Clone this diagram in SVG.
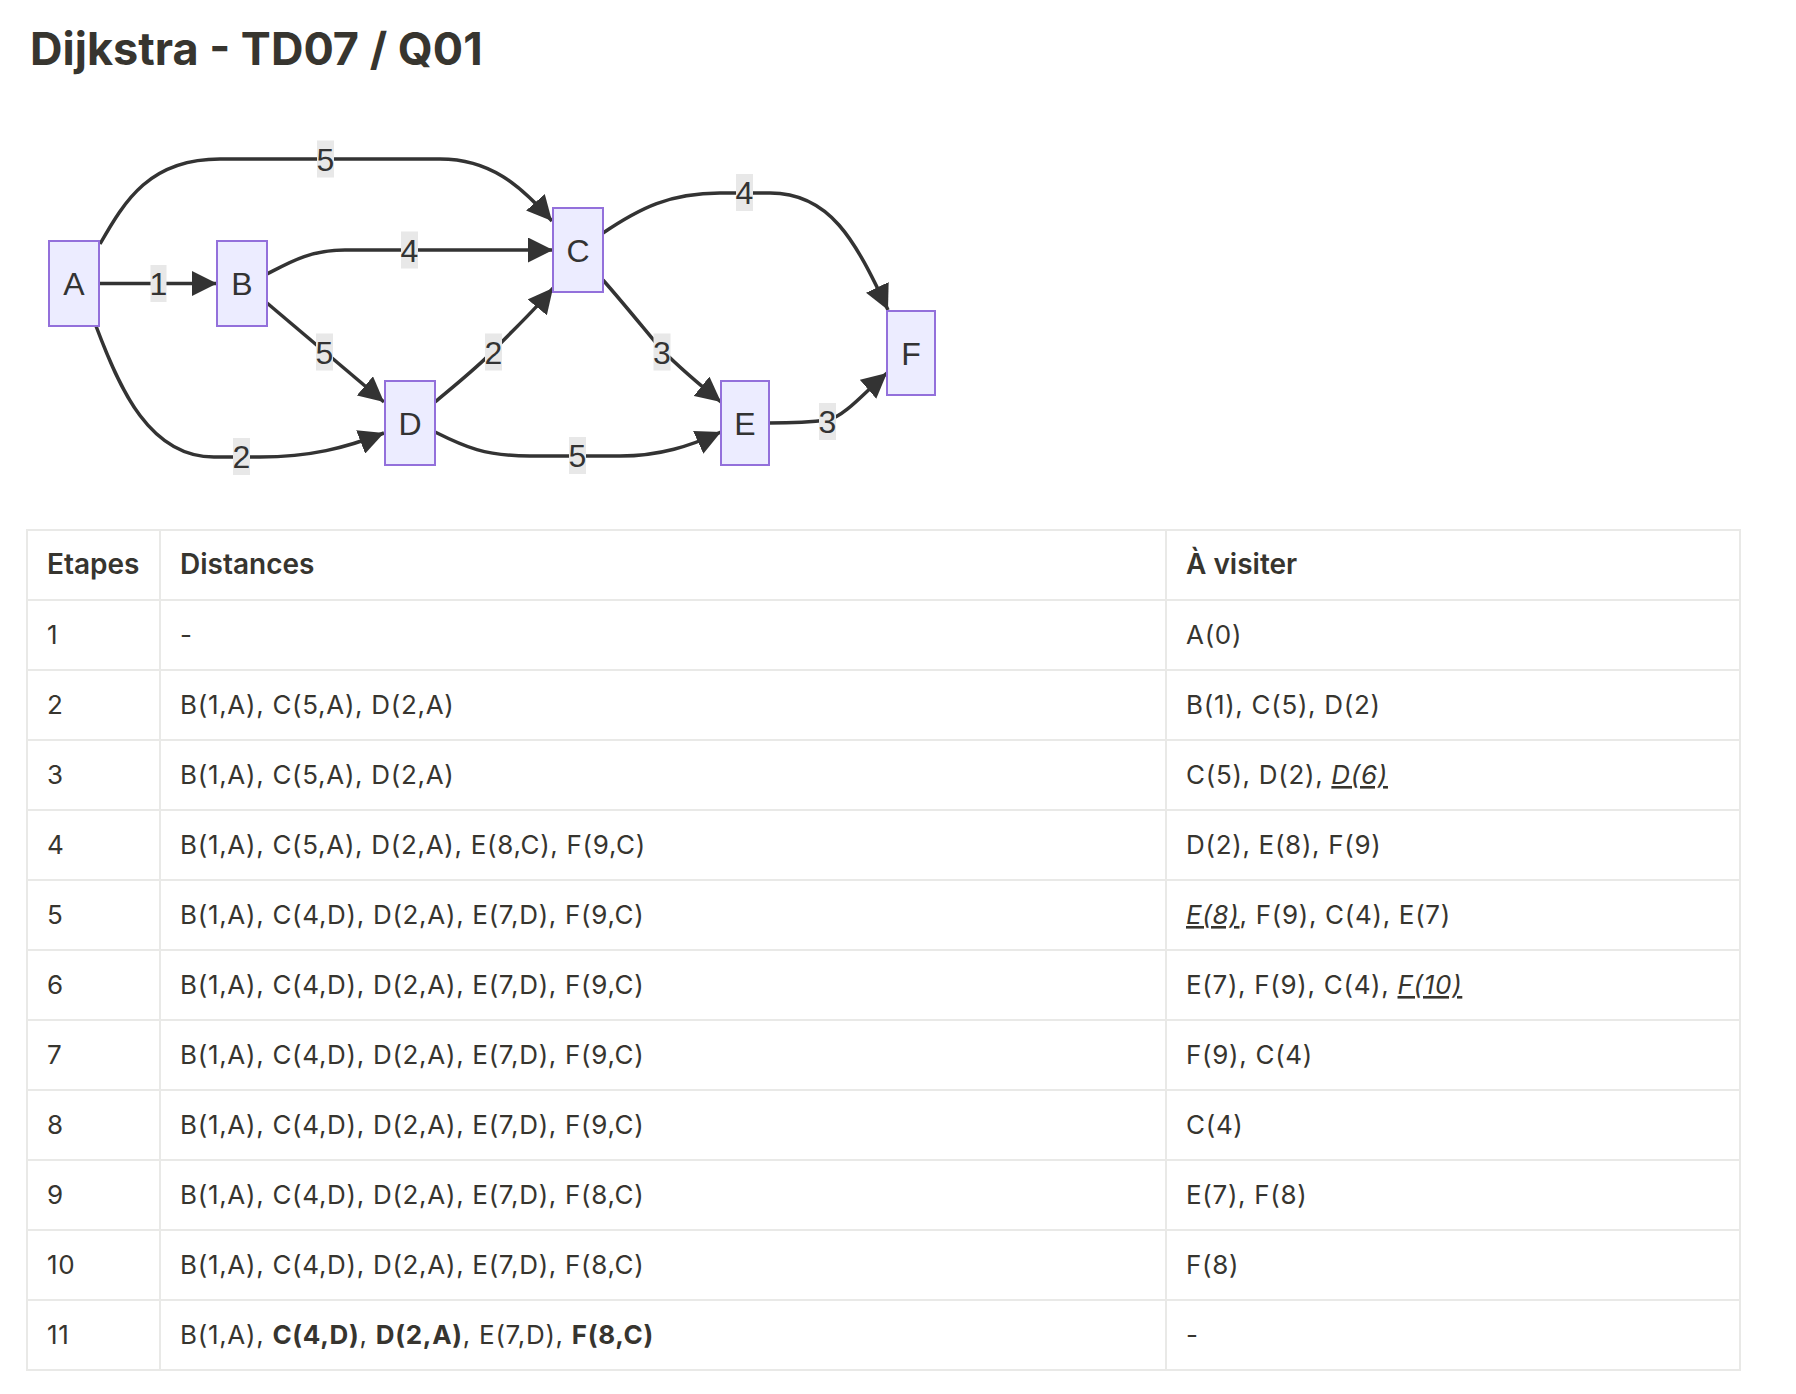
<svg xmlns="http://www.w3.org/2000/svg" width="1796" height="1394" viewBox="0 0 1796 1394">
<defs>
<marker id="arr" viewBox="0 0 10 10" refX="10" refY="5" markerUnits="userSpaceOnUse" markerWidth="25" markerHeight="25" orient="auto">
<path d="M0,0 L10,5 L0,10 z" fill="#333333"/>
</marker>
</defs>
<style>
.node rect{fill:#ECECFF;stroke:#9370DB;stroke-width:2}
.nl{font-family:"Liberation Sans",Arial,sans-serif;font-size:32px;fill:#333333;text-anchor:middle}
.edge{fill:none;stroke:#333333;stroke-width:3.5;marker-end:url(#arr)}
.lb rect{fill:#e8e8e8}
.lb text{font-family:"Liberation Sans",Arial,sans-serif;font-size:32px;fill:#333333;text-anchor:middle}
.title{font-family:Inter,"Liberation Sans",sans-serif;font-size:45px;font-weight:700;fill:#37352f}
.grid{stroke:#e9e9e7;stroke-width:2;fill:none}
.th{font-family:Inter,"Liberation Sans",sans-serif;font-size:28px;font-weight:600;fill:#37352f}
.td{font-family:Inter,"Liberation Sans",sans-serif;font-size:26px;letter-spacing:0.7px;fill:#37352f}
.em{font-style:italic;text-decoration:underline}
.b{font-weight:700}
</style>
<rect width="1796" height="1394" fill="#ffffff"/>
<text class="title" x="30" y="65">Dijkstra - TD07 / Q01</text>

<g id="connectors">
<path class="edge" d="M100,244 C125,200 150,159 220,159 L440,159 C490,159 520,185 552,221"/>
<path class="edge" d="M100,283.5 L217,283.5"/>
<path class="edge" d="M267,274 C290,262 310,250 345,250 L553,250"/>
<path class="edge" d="M267,303 L384,402"/>
<path class="edge" d="M96,326 C120,390 150,457 214,457 L260,457 C310,457 345,448 384,433"/>
<path class="edge" d="M435,402 C465,377 480,365 494,350 C510,333 535,310 553,288"/>
<path class="edge" d="M435,432 C465,447 485,456 530,456 L620,456 C660,456 690,446 721,432"/>
<path class="edge" d="M603,280 C625,305 645,330 662,350 C680,368 700,385 721,402"/>
<path class="edge" d="M603,233 C640,208 670,193 720,193 L770,193 C830,193 855,240 888,310"/>
<path class="edge" d="M769,423 C790,423 805,423 828,420 C845,416 865,392 887,373"/>
<g class="lb">
<rect x="317" y="140.5" width="17" height="37"/><text x="325.5" y="170.5">5</text>
<rect x="150.5" y="265" width="16" height="37"/><text x="158.5" y="295">1</text>
<rect x="401" y="231.5" width="17" height="37"/><text x="409.5" y="261.5">4</text>
<rect x="316" y="333.5" width="17" height="37"/><text x="324.5" y="363.5">5</text>
<rect x="233" y="438" width="17" height="37"/><text x="241.5" y="468">2</text>
<rect x="485" y="333.5" width="17" height="37"/><text x="493.5" y="363.5">2</text>
<rect x="569" y="437" width="17" height="37"/><text x="577.5" y="467">5</text>
<rect x="653.5" y="333.5" width="17" height="37"/><text x="662" y="363.5">3</text>
<rect x="736" y="174" width="17" height="37"/><text x="744.5" y="204">4</text>
<rect x="819" y="403" width="17" height="37"/><text x="827.5" y="433">3</text>
</g>
</g>

<g id="node-A" class="node"><rect x="49" y="241" width="50" height="85"/><text class="nl" x="74" y="295">A</text></g>
<g id="node-B" class="node"><rect x="217" y="241" width="50" height="85"/><text class="nl" x="242" y="295">B</text></g>
<g id="node-C" class="node"><rect x="553" y="208" width="50" height="84"/><text class="nl" x="578" y="261.5">C</text></g>
<g id="node-D" class="node"><rect x="385" y="381" width="50" height="84"/><text class="nl" x="410" y="434.5">D</text></g>
<g id="node-E" class="node"><rect x="721" y="381" width="48" height="84"/><text class="nl" x="745" y="434.5">E</text></g>
<g id="node-F" class="node"><rect x="887" y="311" width="48" height="84"/><text class="nl" x="911" y="364.5">F</text></g>

<g id="table">
<rect class="grid" x="27" y="530" width="1713" height="840"/>
<path class="grid" d="M160,530 V1370 M1166,530 V1370 M27,600 H1740 M27,670 H1740 M27,740 H1740 M27,810 H1740 M27,880 H1740 M27,950 H1740 M27,1020 H1740 M27,1090 H1740 M27,1160 H1740 M27,1230 H1740 M27,1300 H1740"/>
<text class="th" x="47" y="574">Etapes</text>
<text class="th" x="180" y="574">Distances</text>
<text class="th" x="1186" y="574">À visiter</text>

<text class="td" x="47" y="644">1</text>
<text class="td" x="180" y="644">-</text>
<text class="td" x="1186" y="644">A(0)</text>

<text class="td" x="47" y="714">2</text>
<text class="td" x="180" y="714">B(1,A), C(5,A), D(2,A)</text>
<text class="td" x="1186" y="714">B(1), C(5), D(2)</text>

<text class="td" x="47" y="784">3</text>
<text class="td" x="180" y="784">B(1,A), C(5,A), D(2,A)</text>
<text class="td" x="1186" y="784">C(5), D(2), <tspan class="em">D(6)</tspan></text>

<text class="td" x="47" y="854">4</text>
<text class="td" x="180" y="854">B(1,A), C(5,A), D(2,A), E(8,C), F(9,C)</text>
<text class="td" x="1186" y="854">D(2), E(8), F(9)</text>

<text class="td" x="47" y="924">5</text>
<text class="td" x="180" y="924">B(1,A), C(4,D), D(2,A), E(7,D), F(9,C)</text>
<text class="td" x="1186" y="924"><tspan class="em">E(8)</tspan>, F(9), C(4), E(7)</text>

<text class="td" x="47" y="994">6</text>
<text class="td" x="180" y="994">B(1,A), C(4,D), D(2,A), E(7,D), F(9,C)</text>
<text class="td" x="1186" y="994">E(7), F(9), C(4), <tspan class="em">F(10)</tspan></text>

<text class="td" x="47" y="1064">7</text>
<text class="td" x="180" y="1064">B(1,A), C(4,D), D(2,A), E(7,D), F(9,C)</text>
<text class="td" x="1186" y="1064">F(9), C(4)</text>

<text class="td" x="47" y="1134">8</text>
<text class="td" x="180" y="1134">B(1,A), C(4,D), D(2,A), E(7,D), F(9,C)</text>
<text class="td" x="1186" y="1134">C(4)</text>

<text class="td" x="47" y="1204">9</text>
<text class="td" x="180" y="1204">B(1,A), C(4,D), D(2,A), E(7,D), F(8,C)</text>
<text class="td" x="1186" y="1204">E(7), F(8)</text>

<text class="td" x="47" y="1274">10</text>
<text class="td" x="180" y="1274">B(1,A), C(4,D), D(2,A), E(7,D), F(8,C)</text>
<text class="td" x="1186" y="1274">F(8)</text>

<text class="td" x="47" y="1344">11</text>
<text class="td" x="180" y="1344">B(1,A), <tspan class="b">C(4,D)</tspan>, <tspan class="b">D(2,A)</tspan>, E(7,D), <tspan class="b">F(8,C)</tspan></text>
<text class="td" x="1186" y="1344">-</text>
</g>
</svg>
